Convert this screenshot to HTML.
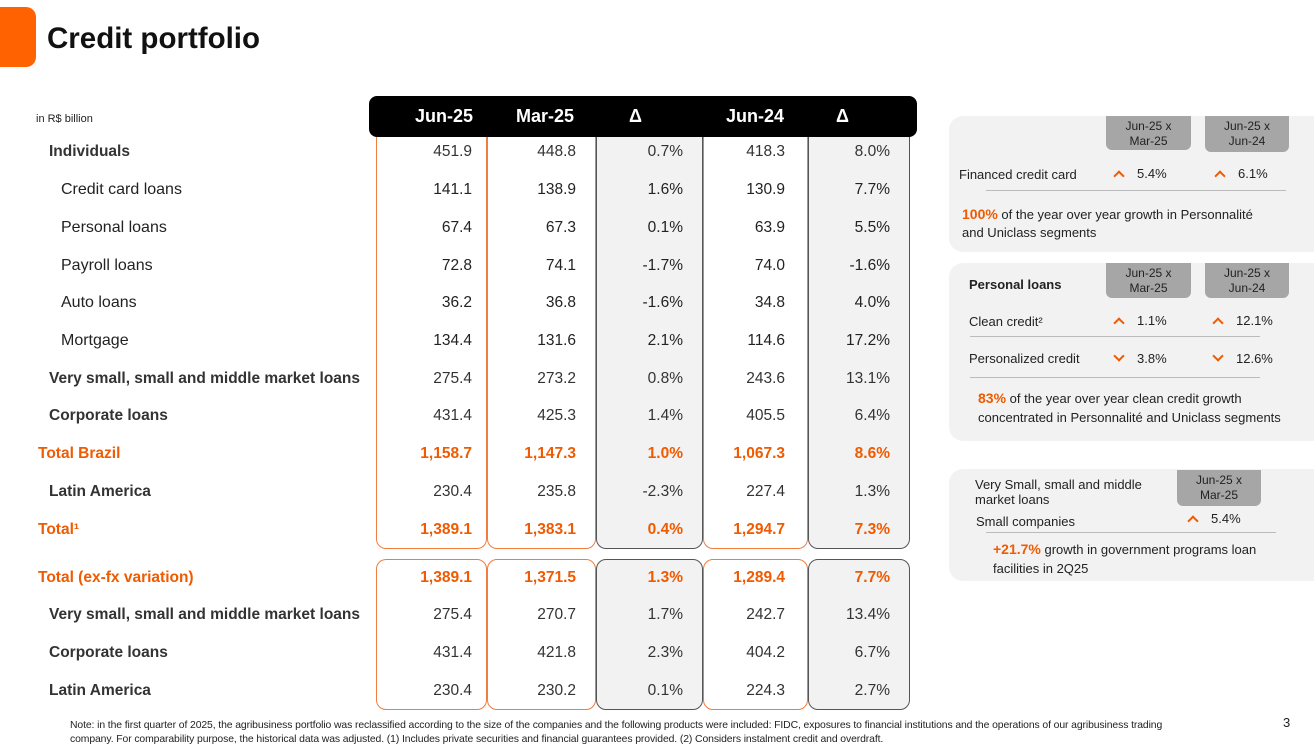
<!DOCTYPE html>
<html><head><meta charset="utf-8">
<style>
*{margin:0;padding:0;box-sizing:border-box}
body{width:1314px;height:743px;position:relative;background:#fff;font-family:"Liberation Sans",sans-serif;color:#222;overflow:hidden}
.a{position:absolute}
.t{position:absolute;white-space:nowrap}
.col{position:absolute;border:1.5px solid #f07c40;border-top:none;background:#fff}
.colg{position:absolute;border:1.5px solid #555;border-top:none;background:#f2f2f2}
.lbl{position:absolute;font-size:16px;transform:translateY(-50%);white-space:nowrap}
.num{position:absolute;font-size:15.5px;transform:translateY(-50%);text-align:right;width:100px}
.or{color:#f05a00;font-weight:bold}
.panel{position:absolute;background:#f2f2f2;border-radius:14px}
.tab{position:absolute;background:#a6a6a6;border-radius:0 0 6px 6px;font-size:12px;text-align:center;line-height:15px;padding-top:3px;color:#222}
.sm{position:absolute;font-size:13px;white-space:nowrap}
.up,.dn{display:inline-block;width:8px;height:8px;border-left:2.5px solid #f05a00;border-top:2.5px solid #f05a00;margin-right:14px;margin-left:2px}
.up{transform:rotate(45deg);vertical-align:-2px}
.dn{transform:rotate(225deg);vertical-align:3px}
.line{position:absolute;height:1px;background:#bbb}
</style></head><body>
<div class="a" style="left:0;top:7px;width:36px;height:60px;background:#ff6200;border-radius:0 10px 10px 0"></div>
<div class="t" style="left:47px;top:22px;font-size:29.5px;font-weight:bold;color:#111">Credit portfolio</div>
<div class="t" style="left:36px;top:113px;font-size:11px">in R$ billion</div>

<div id="tbl">
<div class="col" style="left:376px;top:130px;width:111px;height:419px;border-radius:0 0 10px 10px"></div>
<div class="col" style="left:487px;top:130px;width:109px;height:419px;border-radius:0 0 10px 10px"></div>
<div class="colg" style="left:596px;top:130px;width:107px;height:419px;border-radius:0 0 10px 10px"></div>
<div class="col" style="left:703px;top:130px;width:105px;height:419px;border-radius:0 0 10px 10px"></div>
<div class="colg" style="left:808px;top:130px;width:102px;height:419px;border-radius:0 0 10px 10px"></div>
<div class="col" style="left:376px;top:559px;width:111px;height:151px;border-top:1.5px solid #f07c40;border-radius:10px"></div>
<div class="col" style="left:487px;top:559px;width:109px;height:151px;border-top:1.5px solid #f07c40;border-radius:10px"></div>
<div class="colg" style="left:596px;top:559px;width:107px;height:151px;border-top:1.5px solid #555;border-radius:10px"></div>
<div class="col" style="left:703px;top:559px;width:105px;height:151px;border-top:1.5px solid #f07c40;border-radius:10px"></div>
<div class="colg" style="left:808px;top:559px;width:102px;height:151px;border-top:1.5px solid #555;border-radius:10px"></div>
<div class="a" style="left:369px;top:96px;width:548px;height:41px;background:#000;border-radius:8px;color:#fff;font-weight:bold;font-size:18px">
<span class="t" style="left:46px;top:10px">Jun-25</span>
<span class="t" style="left:147px;top:10px">Mar-25</span>
<span class="t" style="left:260px;top:10px">Δ</span>
<span class="t" style="left:357px;top:10px">Jun-24</span>
<span class="t" style="left:467px;top:10px">Δ</span>
</div>
</div>

<script>
const labels=["Individuals","Credit card loans","Personal loans","Payroll loans","Auto loans","Mortgage","Very small, small and middle market loans","Corporate loans","Total Brazil","Latin America","Total¹","Total (ex-fx variation)","Very small, small and middle market loans","Corporate loans","Latin America"];
const jun25=["451.9","141.1","67.4","72.8","36.2","134.4","275.4","431.4","1,158.7","230.4","1,389.1","1,389.1","275.4","431.4","230.4"];
const mar25=["448.8","138.9","67.3","74.1","36.8","131.6","273.2","425.3","1,147.3","235.8","1,383.1","1,371.5","270.7","421.8","230.2"];
const dq=["0.7%","1.6%","0.1%","-1.7%","-1.6%","2.1%","0.8%","1.4%","1.0%","-2.3%","0.4%","1.3%","1.7%","2.3%","0.1%"];
const jun24=["418.3","130.9","63.9","74.0","34.8","114.6","243.6","405.5","1,067.3","227.4","1,294.7","1,289.4","242.7","404.2","224.3"];
const dy=["8.0%","7.7%","5.5%","-1.6%","4.0%","17.2%","13.1%","6.4%","8.6%","1.3%","7.3%","7.7%","13.4%","6.7%","2.7%"];
const rowY=[152,190,228,266,303,341,379,416,454,492,530,578,615,653,691];
const indent=[49,61,61,61,61,61,49,49,38,49,38,38,49,49,49];
const kind=["b","n","n","n","n","n","b","b","o","b","o","o","b","b","b"];
const tbl=document.getElementById('tbl');
const cols=[[jun25,472],[mar25,576],[dq,683],[jun24,785],[dy,890]];
labels.forEach((l,i)=>{
  const d=document.createElement('div');
  d.className='lbl'+(kind[i]==='o'?' or':'');
  d.style.left=indent[i]+'px';d.style.top=rowY[i]+'px';
  if(kind[i]!=='n'){d.style.fontWeight='bold';d.style.fontSize='15.5px';}
  if(kind[i]==='b')d.style.color='#333';
  d.textContent=l;
  
  
  tbl.appendChild(d);
  cols.forEach(([arr,x])=>{
    const n=document.createElement('div');
    n.className='num'+(kind[i]==='o'?' or':'');
    if(kind[i]==='b')n.style.color='#333';
    n.style.left=(x-100)+'px';n.style.top=rowY[i]+'px';
    n.textContent=arr[i];
    
    
    tbl.appendChild(n);
  });
});
</script>

<div class="panel" style="left:949px;top:116px;width:380px;height:136px"></div>
<div class="tab" style="left:1106px;top:116px;width:85px;height:34px">Jun-25 x<br>Mar-25</div>
<div class="tab" style="left:1205px;top:116px;width:84px;height:36px">Jun-25 x<br>Jun-24</div>
<div class="sm" style="left:959px;top:167px">Financed credit card</div>
<div class="sm" style="left:1113px;top:166px"><span class="up"></span>5.4%</div>
<div class="sm" style="left:1214px;top:166px"><span class="up"></span>6.1%</div>
<div class="line" style="left:986px;top:190px;width:300px"></div>
<div class="sm" style="left:962px;top:205px;line-height:18px"><b style="color:#f05a00;font-size:14px">100%</b> of the year over year growth in Personnalité<br>and Uniclass segments</div>

<div class="panel" style="left:949px;top:263px;width:380px;height:178px"></div>
<div class="tab" style="left:1106px;top:263px;width:85px;height:35px">Jun-25 x<br>Mar-25</div>
<div class="tab" style="left:1205px;top:263px;width:84px;height:35px">Jun-25 x<br>Jun-24</div>
<div class="sm" style="left:969px;top:277px;font-weight:bold">Personal loans</div>
<div class="sm" style="left:969px;top:314px">Clean credit²</div>
<div class="sm" style="left:1113px;top:313px"><span class="up"></span>1.1%</div>
<div class="sm" style="left:1212px;top:313px"><span class="up"></span>12.1%</div>
<div class="line" style="left:970px;top:336px;width:290px"></div>
<div class="sm" style="left:969px;top:351px">Personalized credit</div>
<div class="sm" style="left:1113px;top:351px"><span class="dn"></span>3.8%</div>
<div class="sm" style="left:1212px;top:351px"><span class="dn"></span>12.6%</div>
<div class="line" style="left:970px;top:377px;width:290px"></div>
<div class="sm" style="left:978px;top:389px;line-height:19px"><b style="color:#f05a00;font-size:14px">83%</b> of the year over year clean credit growth<br>concentrated in Personnalité and Uniclass segments</div>

<div class="panel" style="left:949px;top:469px;width:380px;height:112px"></div>
<div class="tab" style="left:1177px;top:470px;width:84px;height:36px">Jun-25 x<br>Mar-25</div>
<div class="sm" style="left:975px;top:477px;line-height:15px">Very Small, small and middle<br>market loans</div>
<div class="sm" style="left:976px;top:514px">Small companies</div>
<div class="sm" style="left:1187px;top:511px"><span class="up"></span>5.4%</div>
<div class="line" style="left:986px;top:532px;width:290px"></div>
<div class="sm" style="left:993px;top:540px;line-height:19px"><b style="color:#f05a00;font-size:14px">+21.7%</b> growth in government programs loan<br>facilities in 2Q25</div>

<div class="t" style="left:70px;top:719px;font-size:10.4px;line-height:14px;color:#222;letter-spacing:-0.1px">Note: in the first quarter of 2025, the agribusiness portfolio was reclassified according to the size of the companies and the following products were included: FIDC, exposures to financial institutions and the operations of our agribusiness trading<br>company. For comparability purpose, the historical data was adjusted. (1) Includes private securities and financial guarantees provided. (2) Considers instalment credit and overdraft.</div>
<div class="t" style="left:1283px;top:715px;font-size:13px">3</div>
</body></html>
